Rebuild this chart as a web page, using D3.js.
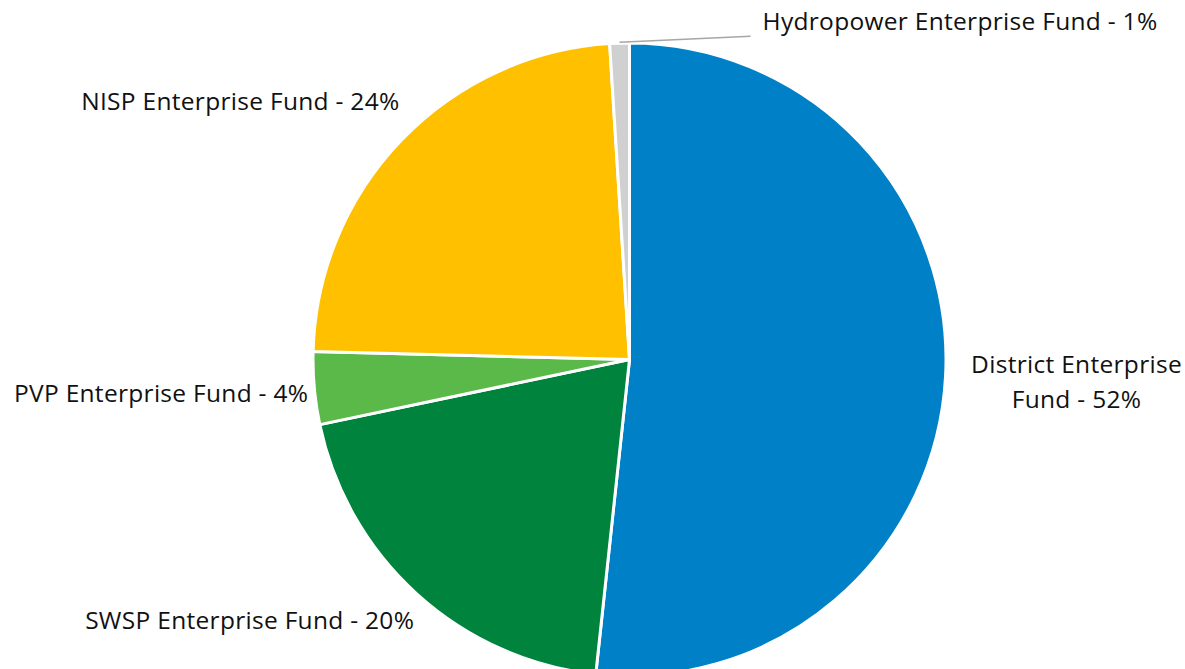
<!DOCTYPE html>
<html>
<head>
<meta charset="utf-8">
<script src="https://cdn.jsdelivr.net/npm/d3@7"></script>
<style>
  html, body { margin: 0; padding: 0; background: #fff; overflow: hidden; }
  text { font-family: "Open Sans", "Noto Sans", sans-serif; fill: #111; }
</style>
</head>
<body>
<div id="chart"></div>
<script>
// data
var funds = ["District Enterprise Fund", "SWSP Enterprise Fund", "PVP Enterprise Fund", "NISP Enterprise Fund", "Hydropower Enterprise Fund"];
var shares = [51.7, 20.0, 3.7, 23.6, 1.0];
var pctLabels = ["52%", "20%", "4%", "24%", "1%"];
var colors = ["#0080c6", "#00843d", "#5bb94a", "#ffc000", "#d0d0d0"];

// layout
var width = 1185, height = 669;
var cx = 629.5, cy = 359.5, R = 316.5;
// label nudges relative to the point on the rim at the slice mid angle
var labelNudge = [
  { dx: 131, dy: 6, anchor: "middle", lines: ["District Enterprise", "Fund - 52%"] },
  { dx: -3, dy: 26, anchor: "end" },
  { dx: -6, dy: 5, anchor: "end" },
  { dx: -2, dy: -39, anchor: "end" },
  { dx: 143, dy: -22, anchor: "start", leader: true }
];

var svg = d3.select("#chart").append("svg")
  .attr("width", width)
  .attr("height", height);

var g = svg.append("g")
  .attr("transform", "translate(" + cx + "," + cy + ")");

var data = funds.map(function(f, i) { return { name: f, value: shares[i], pct: pctLabels[i], i: i }; });

var pie = d3.pie().sort(null).value(function(d) { return d.value; });
var arc = d3.arc().innerRadius(0).outerRadius(R);
var arcs = pie(data);

g.selectAll("path.slice")
  .data(arcs)
  .enter()
  .append("path")
  .attr("class", "slice")
  .attr("d", arc)
  .attr("fill", function(d) { return colors[d.data.i]; })
  .attr("stroke", "#fff")
  .attr("stroke-width", 3)
  .attr("stroke-linejoin", "round");

function rimPoint(d, r) {
  var a = (d.startAngle + d.endAngle) / 2;
  return [r * Math.sin(a), -r * Math.cos(a)];
}

arcs.forEach(function(d) {
  var n = labelNudge[d.data.i];
  var p = rimPoint(d, R);
  var x = p[0] + n.dx, y = p[1] + n.dy;
  var lines = n.lines || [d.data.name + " - " + d.data.pct];

  if (n.leader) {
    g.append("polyline")
      .attr("points", [[p[0], p[1] - 1], [x - 12, y + 15]].join(" "))
      .attr("fill", "none")
      .attr("stroke", "#a6a6a6")
      .attr("stroke-width", 1.5);
  }

  var t = g.append("text")
    .attr("text-anchor", n.anchor)
    .attr("font-size", 24.5)
    .attr("letter-spacing", 0.3);
  var lh = 35;
  lines.forEach(function(l, k) {
    t.append("tspan")
      .attr("x", x)
      .attr("y", y + (k - (lines.length - 1) / 2) * lh)
      .attr("dy", "0.35em")
      .text(l);
  });
});
</script>
</body>
</html>
